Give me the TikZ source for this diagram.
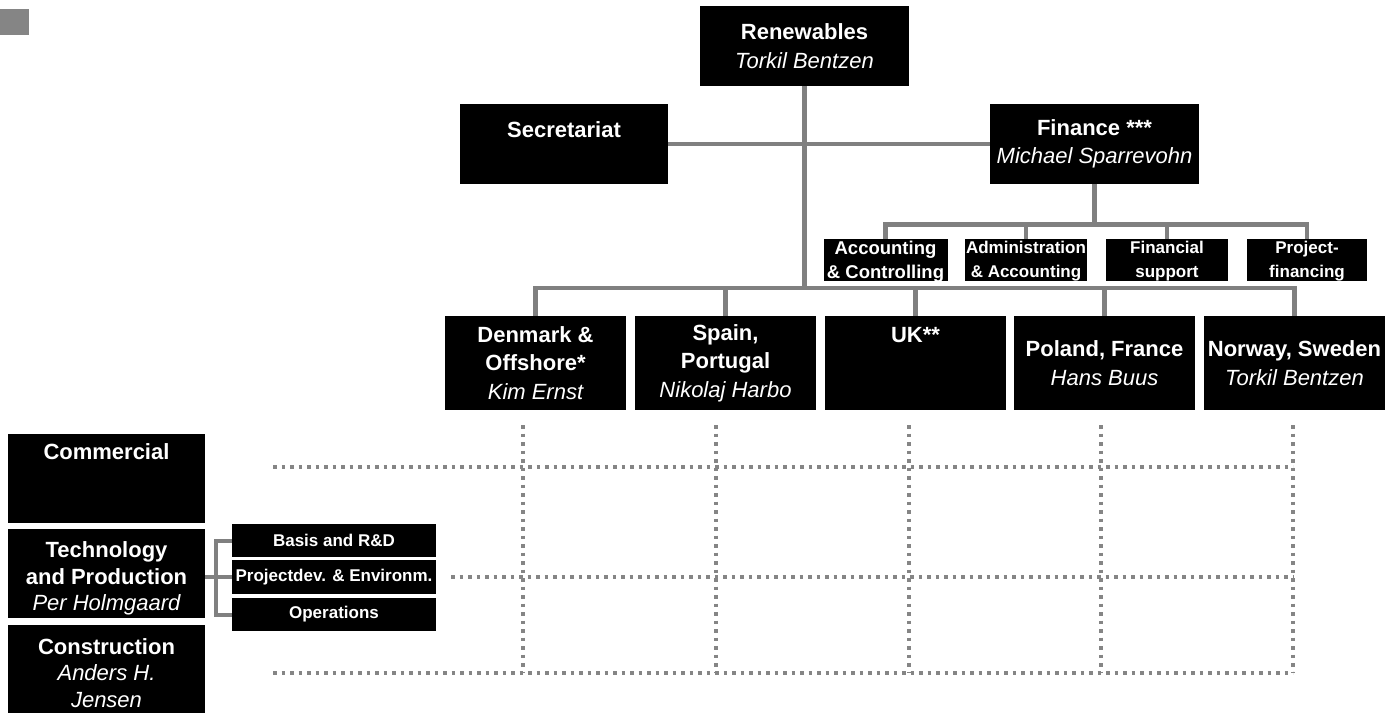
\documentclass[tikz,border=0pt]{standalone}
\usepackage{fontspec}
\setmainfont{Liberation Sans}
\newcommand\pname[1]{{\normalfont\itshape #1}}
\definecolor{linegray}{HTML}{808080}
\definecolor{dotgray}{HTML}{858585}
\definecolor{markgray}{HTML}{858585}
\begin{document}
\begin{tikzpicture}[x=1pt,y=-1pt,
  box/.style={fill=black, text=white, inner sep=0pt, align=center,
    font=\bfseries\fontsize{22}{28.5}\selectfont},
  leftbox/.style={box, font=\bfseries\fontsize{22}{26.5}\selectfont},
  subbox/.style={fill=black, inner sep=0pt, minimum height=42pt},
  subtext/.style={text=white, inner sep=0pt, align=center,
    font=\bfseries\fontsize{17}{24}\selectfont},
  techbox/.style={fill=black, text=white, inner sep=0pt, align=center,
    minimum width=204pt, font=\bfseries\fontsize{17}{20}\selectfont},
  conn/.style={draw=linegray, line width=4.5pt},
  grid/.style={draw=dotgray, line width=3.5pt, dash pattern=on 3.5pt off 5pt}]
\useasboundingbox (0,0) rectangle (1399,713);

% corner mark
\fill[markgray] (0,9) rectangle (29,35);

% connectors (drawn first, boxes sit on top)
\coordinate (bar) at (805,288);
\coordinate (fbar) at (1094,224.5);
\coordinate (brk) at (216,577);

% top level
\node[box, minimum width=209pt, minimum height=80pt] (ren) at (804.5,46)
  {Renewables\\\pname{Torkil Bentzen}};
\node[box, minimum width=208pt, minimum height=80pt] (sec) at (564,144)
  {Secretariat\\~};
\node[box, minimum width=209pt, minimum height=80pt] (fin) at (1094.5,144)
  {Finance ***\\\pname{Michael Sparrevohn}};

% finance departments
\node[subbox, minimum width=124pt] (acc) at (885.5,260) {};
\node[subtext, font=\bfseries\fontsize{18.5}{24}\selectfont] (acc-t) at ([yshift=-1.5pt]acc.center) {Accounting\\\& Controlling};
\node[subbox, minimum width=122pt] (adm) at (1026,260) {};
\node[subtext] (adm-t) at ([yshift=-1.5pt]adm.center) {Administration\\\& Accounting};
\node[subbox, minimum width=122pt] (fsup) at (1167,260) {};
\node[subtext] (fsup-t) at ([yshift=-1.5pt]fsup.center) {Financial\\support};
\node[subbox, minimum width=120pt] (pfin) at (1307,260) {};
\node[subtext] (pfin-t) at ([yshift=-1.5pt]pfin.center) {Project-\\financing};

% regions
\node[box, minimum width=181pt, minimum height=94pt] (dk) at (535.5,363)
  {Denmark \&\\Offshore*\\\pname{Kim Ernst}};
\node[box, minimum width=181pt, minimum height=94pt] (es) at (725.5,363)
  {Spain,\\Portugal\\\pname{Nikolaj Harbo}};
\node[box, minimum width=181pt, minimum height=94pt] (uk) at (915.5,363)
  {UK**\\~\\~};
\node[box, minimum width=181pt, minimum height=94pt] (pl) at (1104.5,363)
  {Poland, France\\\pname{Hans Buus}};
\node[box, minimum width=181pt, minimum height=94pt] (nw) at (1294.5,363)
  {Norway, Sweden\\\pname{Torkil Bentzen}};

% functions
\node[leftbox, minimum width=197pt, minimum height=89pt] (com) at (106.5,478.5)
  {Commercial\\~\\~};
\node[fill=black, inner sep=0pt, minimum width=197pt, minimum height=89pt] (tech) at (106.5,573.5) {};
\node[leftbox, fill=none] (tech-t) at ([yshift=-5pt]tech.center)
  {Technology\\and Production\\\pname{Per Holmgaard}};
\node[fill=black, inner sep=0pt, minimum width=197pt, minimum height=88pt] (cons) at (106.5,669) {};
\node[leftbox, fill=none] (cons-t) at ([yshift=-4pt]cons.center)
  {Construction\\\pname{Anders H.}\\\pname{Jensen}};

% technology departments
\node[techbox, minimum height=33pt] (basis) at (334,540.5) {Basis and R\&D};
\node[techbox, minimum height=34pt] (proj) at (334,577) {Projectdev. \& Environm.};
\node[techbox, minimum height=33pt] (ops) at (334,614.5) {Operations};

% reporting lines
\draw[conn] (ren.south) -- (ren.south |- bar);
\draw[conn] (sec.east) -- (fin.west);
\draw[conn] (dk.north) -- (dk.north |- bar) -- (nw.north |- bar) -- (nw.north);
\draw[conn] (es.north) -- (es.north |- bar);
\draw[conn] (uk.north) -- (uk.north |- bar);
\draw[conn] (pl.north) -- (pl.north |- bar);
\draw[conn] (fin.south) -- (fin.south |- fbar);
\draw[conn] (acc.north) -- (acc.north |- fbar) -- (pfin.north |- fbar) -- (pfin.north);
\draw[conn] (adm.north) -- (adm.north |- fbar);
\draw[conn] (fsup.north) -- (fsup.north |- fbar);
\draw[conn, line width=4pt] (basis.west) -| (brk) |- (ops.west);
\draw[conn, line width=4pt] (tech.east |- proj.west) -- (proj.west);

% matrix grid
\foreach \gx in {523,716,909,1101,1293}
  \draw[grid] (\gx,425) -- (\gx,673);
\draw[grid] (273,467) -- (1293,467);
\draw[grid] (451,577) -- (1293,577);
\draw[grid] (273,673) -- (1293,673);
\end{tikzpicture}
\end{document}
